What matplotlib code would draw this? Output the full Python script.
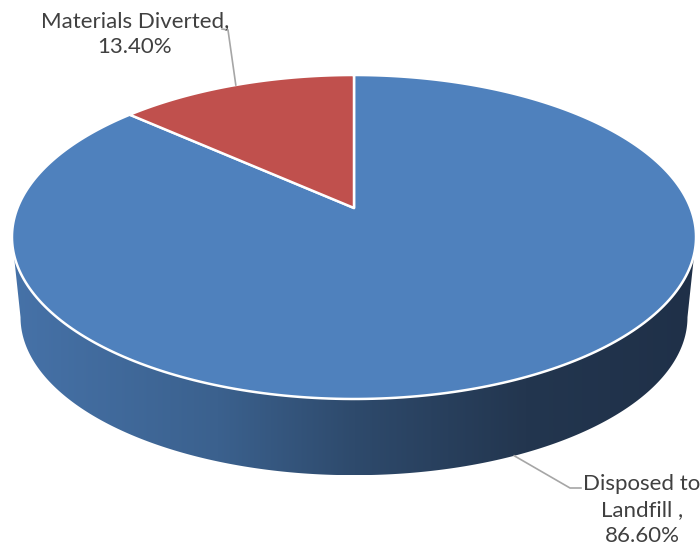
import numpy as np
import matplotlib
matplotlib.use("Agg")
import matplotlib.pyplot as plt
from matplotlib.patches import Polygon
from matplotlib.colors import LinearSegmentedColormap

# data
names = ["Disposed to\nLandfill ,", "Materials Diverted,"]
values = [86.60, 13.40]
colors = ["#4F81BD", "#C0504D"]

# 3D pie geometry (pixel space, perspective like Excel)
cx, cy = 354, 208
A, B, K = 336.5, 156.8, 0.179
SHRINK, DEPTH = 0.975, 81


def project(theta, bottom=False):
    # theta in degrees, clockwise from 12 o'clock
    t = np.radians(theta)
    X, Z = np.sin(t), np.cos(t)
    w = 1 + K * Z
    s = SHRINK if bottom else 1.0
    off = DEPTH if bottom else 0.0
    return cx + s * A * X / w, cy + off - s * B * Z / w


fig = plt.figure(figsize=(7, 5.5), dpi=100)
ax = fig.add_axes([0, 0, 1, 1])

# side of the pie (front half only is visible)
theta_l = 90 + np.degrees(np.arcsin(K))
theta_r = 270 - np.degrees(np.arcsin(K))
front = np.linspace(theta_l, theta_r, 300)
tx, ty = project(front)
bx, by = project(front[::-1], bottom=True)
side_pts = np.column_stack([np.concatenate([tx, bx]), np.concatenate([ty, by])])
side = Polygon(side_pts, closed=True, facecolor="none", edgecolor="none")
ax.add_patch(side)

side_cmap = LinearSegmentedColormap.from_list(
    "side",
    [(0.0, "#4672A8"), (0.3, "#3B618E"), (0.5, "#2E4A6C"),
     (0.75, "#23364F"), (1.0, "#1F3048")],
)
grad = np.linspace(0, 1, 256).reshape(1, -1)
im = ax.imshow(grad, cmap=side_cmap, aspect="auto",
               extent=(side_pts[:, 0].min(), side_pts[:, 0].max(),
                       side_pts[:, 1].max(), side_pts[:, 1].min()),
               interpolation="bilinear")
im.set_clip_path(side)

# top face slices
start = 0.0
mids = []
for v, c in zip(values, colors):
    span = v / sum(values) * 360
    arc = np.linspace(start, start + span, 300)
    ax_, ay_ = project(arc)
    pts = np.column_stack([np.r_[cx, ax_], np.r_[cy, ay_]])
    ax.add_patch(Polygon(pts, closed=True, facecolor=c, edgecolor="white",
                         linewidth=1.8, joinstyle="round"))
    mids.append(start + span / 2)
    start += span

# labels with leader lines
lc = "#A6A6A6"
tc = "#404040"
font = ["Lato", "DejaVu Sans"]

# Disposed to Landfill (leader from bottom edge)
x0, y0 = project(mids[0], bottom=True)
ax.plot([x0, 570, 581], [y0, 488, 488], color=lc, lw=1.2)
ax.text(642, 510, f"{names[0]}\n{values[0]:.2f}%", ha="center", va="center",
        multialignment="center", fontsize=16, color=tc, family=font,
        linespacing=1.4)

# Materials Diverted (leader from top edge)
x1, y1 = project(mids[1])
ax.plot([x1, 228, 222], [y1, 30, 29], color=lc, lw=1.2)
ax.text(135, 34, f"{names[1]}\n{values[1]:.2f}%", ha="center", va="center",
        multialignment="center", fontsize=16, color=tc, family=font,
        linespacing=1.4)

ax.set_xlim(0, 700)
ax.set_ylim(550, 0)
ax.axis("off")

fig.savefig("out.png", dpi=100)
